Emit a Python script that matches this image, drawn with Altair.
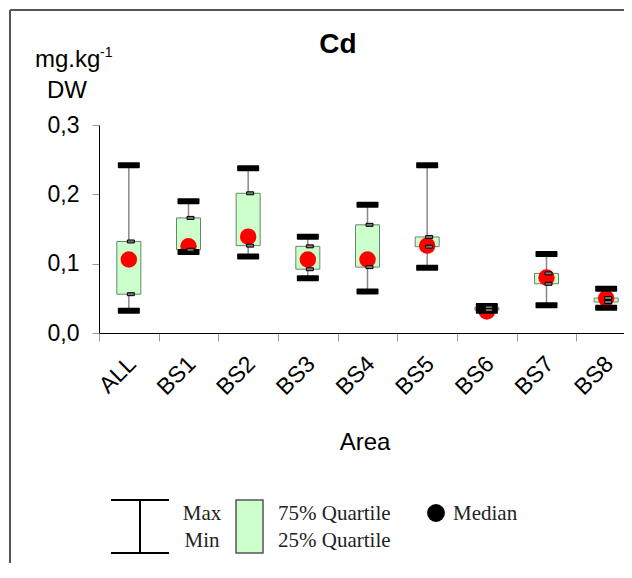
import altair as alt
import pandas as pd

cats = ["ALL", "BS1", "BS2", "BS3", "BS4", "BS5", "BS6", "BS7", "BS8"]
max_v = [0.242, 0.190, 0.2375, 0.139, 0.185, 0.242, 0.039, 0.114, 0.064]
min_v = [0.032, 0.117, 0.1105, 0.079, 0.060, 0.094, 0.032, 0.040, 0.0365]
q3_v = [0.132, 0.166, 0.2015, 0.125, 0.156, 0.1385, 0.037, 0.086, 0.0505]
q1_v = [0.056, 0.120, 0.126, 0.092, 0.095, 0.1245, 0.033, 0.071, 0.0447]
med_v = [0.106, 0.125, 0.139, 0.106, 0.106, 0.126, 0.031, 0.080, 0.050]
y_ticks = [0.0, 0.1, 0.2, 0.3]

title_text = "Cd"
y_title = ["mg.kg", "-1", "DW"]
x_title = "Area"
legend_labels = ["Max", "Min", "75% Quartile", "25% Quartile", "Median"]

df = pd.DataFrame({"cat": cats, "max": max_v, "min": min_v, "q3": q3_v, "q1": q1_v, "med": med_v})

SANS = "Liberation Sans"
SERIF = "Liberation Serif"

xenc = alt.X(
    "cat:N", sort=cats,
    scale=alt.Scale(range=[0, 537], paddingInner=0, paddingOuter=0),
    axis=alt.Axis(title=None, labelAngle=-45, labelAlign="right", labelBaseline="middle",
                  labelFont=SANS, labelFontSize=23, labelColor="black", labelPadding=19,
                  labelOffset=3,
                  tickColor="#999999", tickSize=8, tickBand="extent", domainColor="black",
                  domainWidth=1, grid=False),
)
yscale = alt.Scale(domain=[0, 0.3], nice=False, zero=True)
yaxis = alt.Axis(title=None, values=y_ticks, labelExpr="replace(format(datum.value, '.1f'), '.', ',')",
                 labelFont=SANS, labelFontSize=23, labelColor="black", labelPadding=13,
                 tickColor="#999999", tickSize=7, domainColor="black", domainWidth=1, grid=False)

base = alt.Chart(df).encode(x=xenc)

whisker = base.mark_rule(color="#888888", strokeWidth=1.5).encode(
    y=alt.Y("min:Q", scale=yscale, axis=yaxis), y2="max:Q")
box = base.mark_bar(size=24, fill="#ccffcc", stroke="#668866", strokeWidth=1, opacity=1).encode(
    y=alt.Y("q1:Q", scale=yscale), y2="q3:Q")
median = base.mark_circle(size=270, color="#ff0000", opacity=1).encode(y=alt.Y("med:Q", scale=yscale))
maxbar = base.mark_tick(orient="horizontal", size=22, thickness=6, color="black", opacity=1,
                        cornerRadius=1).encode(y=alt.Y("max:Q", scale=yscale))
minbar = base.mark_tick(orient="horizontal", size=22, thickness=6, color="black", opacity=1,
                        cornerRadius=1).encode(y=alt.Y("min:Q", scale=yscale))
q3m = base.mark_tick(orient="horizontal", size=7, thickness=3, fill="#777777", stroke="black",
                     strokeWidth=1, xOffset=2, opacity=1).encode(y=alt.Y("q3:Q", scale=yscale))
q1m = base.mark_tick(orient="horizontal", size=7, thickness=3, fill="#777777", stroke="black",
                     strokeWidth=1, xOffset=2, opacity=1).encode(y=alt.Y("q1:Q", scale=yscale))


def txt(s, x, y, size, font=SANS, bold=False, align="left", color="black"):
    return alt.Chart(pd.DataFrame({"t": [s]})).mark_text(
        font=font, fontSize=size, fontWeight="bold" if bold else "normal", align=align,
        baseline="alphabetic", color=color).encode(x=alt.value(x), y=alt.value(y), text="t:N")


one = pd.DataFrame({"a": [0]})
frame_left = alt.Chart(one).mark_rule(color="#555555", strokeWidth=2).encode(
    x=alt.value(-89), y=alt.value(-115), y2=alt.value(520))
frame_top = alt.Chart(one).mark_rule(color="#555555", strokeWidth=2).encode(
    x=alt.value(-89), x2=alt.value(560), y=alt.value(-115))

leg_top = alt.Chart(one).mark_rule(color="black", strokeWidth=2).encode(
    x=alt.value(12), x2=alt.value(70), y=alt.value(375))
leg_bot = alt.Chart(one).mark_rule(color="black", strokeWidth=2).encode(
    x=alt.value(12), x2=alt.value(70), y=alt.value(428))
leg_vert = alt.Chart(one).mark_rule(color="black", strokeWidth=2).encode(
    x=alt.value(41), y=alt.value(375), y2=alt.value(428))
leg_box = alt.Chart(one).mark_rect(fill="#ccffcc", stroke="#555555", strokeWidth=1.5).encode(
    x=alt.value(137), x2=alt.value(164), y=alt.value(375), y2=alt.value(428))
leg_dot = alt.Chart(one).mark_circle(size=320, color="black", opacity=1).encode(
    x=alt.value(337), y=alt.value(388))

texts = [
    txt(title_text, 239, -72, 28, bold=True, align="center"),
    txt(y_title[0], -64, -58, 24),
    txt(y_title[1], 1, -68, 14),
    txt(y_title[2], -32, -27, 24, align="center"),
    txt(x_title, 266, 325, 24, align="center"),
    txt(legend_labels[0], 103, 395, 21, font=SERIF, align="center", color="#222222"),
    txt(legend_labels[1], 103, 422, 21, font=SERIF, align="center", color="#222222"),
    txt(legend_labels[2], 179, 395, 21, font=SERIF, color="#222222"),
    txt(legend_labels[3], 179, 422, 21, font=SERIF, color="#222222"),
    txt(legend_labels[4], 354, 395, 21, font=SERIF, color="#222222"),
]

chart = alt.layer(
    whisker, box, median, maxbar, minbar, q3m, q1m,
    frame_left, frame_top, leg_top, leg_bot, leg_vert, leg_box, leg_dot, *texts
).properties(
    width=525, height=208, autosize="none", background="white",
    padding={"left": 91, "top": 117, "right": 0, "bottom": 230},
).configure_view(stroke=None)

chart.save("out.html", embed_options={"renderer": "svg", "actions": False})
